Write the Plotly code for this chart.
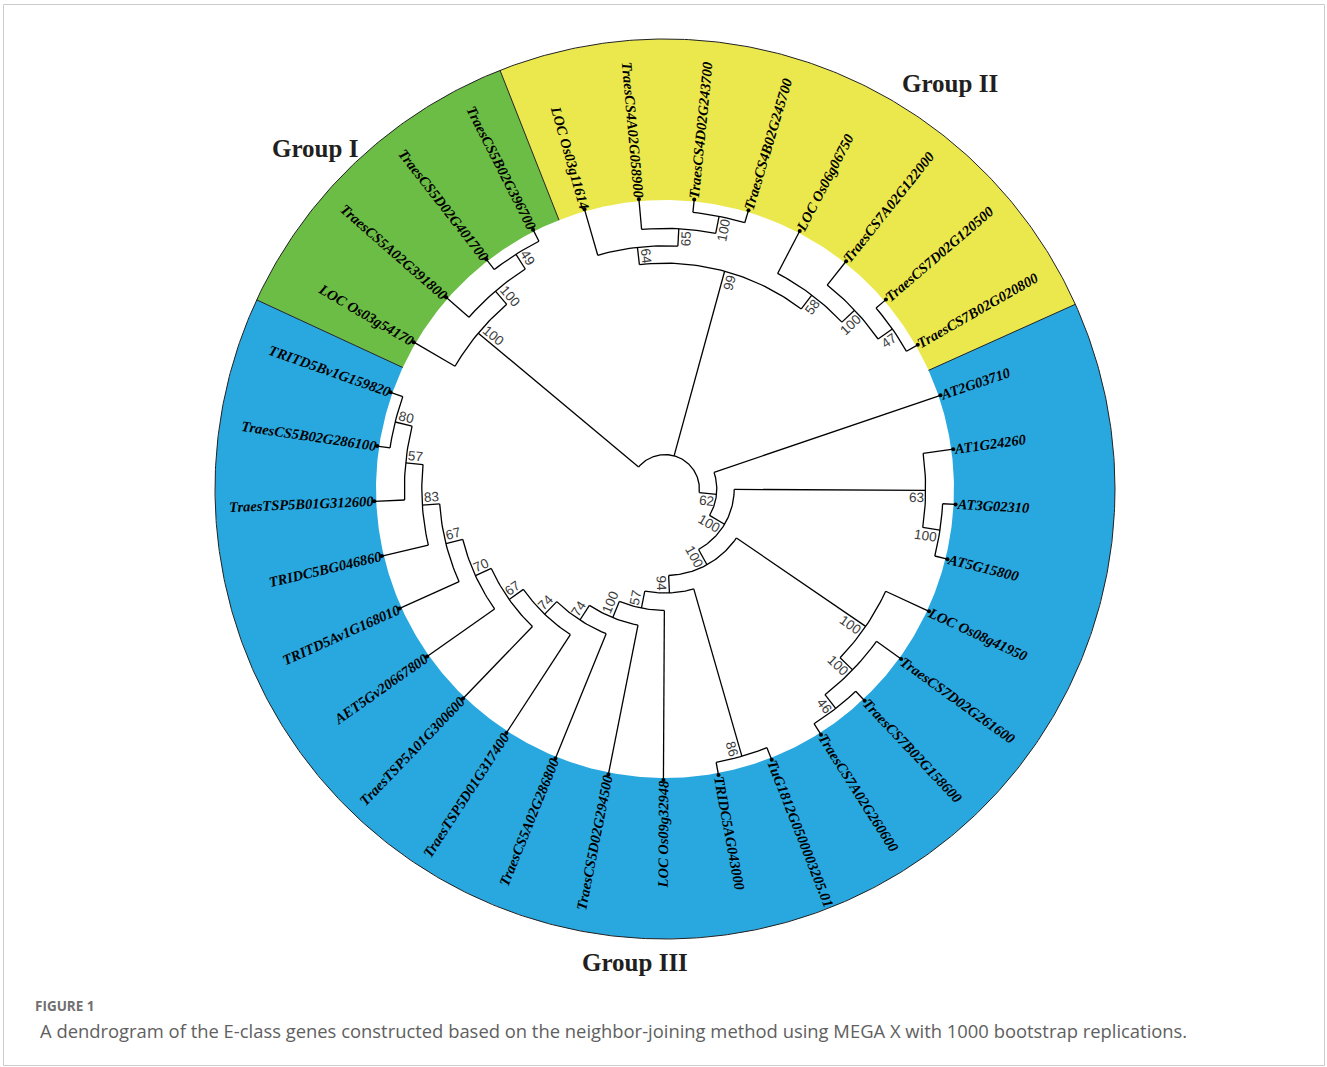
import math
import plotly.graph_objects as go

# ---------------- data ----------------
leaf_names = [
    "TRITD5Bv1G159820", "TraesCS5B02G286100", "TraesTSP5B01G312600", "TRIDC5BG046860",
    "TRITD5Av1G168010", "AET5Gv20667800", "TraesTSP5A01G300600", "TraesTSP5D01G317400",
    "TraesCS5A02G286800", "TraesCS5D02G294500", "LOC Os09g32948", "TRIDC5AG043000",
    "TuG1812G0500003205.01", "TraesCS7A02G260600", "TraesCS7B02G158600", "TraesCS7D02G261600",
    "LOC Os08g41950", "AT5G15800", "AT3G02310", "AT1G24260", "AT2G03710",
    "TraesCS7B02G020800", "TraesCS7D02G120500", "TraesCS7A02G122000", "LOC Os06g06750",
    "TraesCS4B02G245700", "TraesCS4D02G243700", "TraesCS4A02G058900", "LOC Os03g11614",
    "TraesCS5B02G396700", "TraesCS5D02G401700", "TraesCS5A02G391800", "LOC Os03g54170",
]
leaf_groups = ["Group III"] * 21 + ["Group II"] * 8 + ["Group I"] * 4

group_names = ["Group I", "Group II", "Group III"]
group_colors = ["#6cbd45", "#ebe84e", "#29a8e0"]

# internal nodes: children (in leaf order) and bootstrap support
node_children = {
    "n80": ["TRITD5Bv1G159820", "TraesCS5B02G286100"],
    "n57a": ["n80", "TraesTSP5B01G312600"],
    "n83": ["n57a", "TRIDC5BG046860"],
    "n67a": ["n83", "TRITD5Av1G168010"],
    "n70": ["n67a", "AET5Gv20667800"],
    "n67b": ["n70", "TraesTSP5A01G300600"],
    "n74a": ["n67b", "TraesTSP5D01G317400"],
    "n74b": ["n74a", "TraesCS5A02G286800"],
    "n100a": ["n74b", "TraesCS5D02G294500"],
    "n57b": ["n100a", "LOC Os09g32948"],
    "n86": ["TRIDC5AG043000", "TuG1812G0500003205.01"],
    "n94": ["n57b", "n86"],
    "n46": ["TraesCS7A02G260600", "TraesCS7B02G158600"],
    "n100b": ["n46", "TraesCS7D02G261600"],
    "n100c": ["n100b", "LOC Os08g41950"],
    "n100d": ["n94", "n100c"],
    "n100e": ["AT5G15800", "AT3G02310"],
    "n63": ["n100e", "AT1G24260"],
    "n100f": ["n100d", "n63"],
    "n62": ["n100f", "AT2G03710"],
    "n47": ["TraesCS7B02G020800", "TraesCS7D02G120500"],
    "n100g": ["n47", "TraesCS7A02G122000"],
    "n58": ["n100g", "LOC Os06g06750"],
    "n100h": ["TraesCS4B02G245700", "TraesCS4D02G243700"],
    "n65": ["n100h", "TraesCS4A02G058900"],
    "n64": ["n65", "LOC Os03g11614"],
    "n99": ["n58", "n64"],
    "n49": ["TraesCS5B02G396700", "TraesCS5D02G401700"],
    "n100i": ["n49", "TraesCS5A02G391800"],
    "n100j": ["n100i", "LOC Os03g54170"],
    "root": ["n62", "n99", "n100j"],
}
node_bootstrap = {
    "n80": 80, "n57a": 57, "n83": 83, "n67a": 67, "n70": 70, "n67b": 67,
    "n74a": 74, "n74b": 74, "n100a": 100, "n57b": 57, "n86": 86, "n94": 94,
    "n46": 46, "n100b": 100, "n100c": 100, "n100d": 100, "n100e": 100,
    "n63": 63, "n100f": 100, "n62": 62, "n47": 47, "n100g": 100, "n58": 58,
    "n100h": 100, "n65": 65, "n64": 64, "n99": 99, "n49": 49, "n100i": 100,
    "n100j": 100,
}

caption_head = "FIGURE 1"
caption_text = ("A dendrogram of the E-class genes constructed based on the neighbor-joining "
                "method using MEGA X with 1000 bootstrap replications.")

# ---------------- layout constants (pixel space) ----------------
W, H_PX = 1327, 1067
CX, CY = 665, 489
R_IN, R_OUT = 289, 450
R_LEAF = 291
R_TOP, STEP = 295.4, 17.4
START = 160.6
SPAN = 360.0 / len(leaf_names)

leaf_index = {n: i for i, n in enumerate(leaf_names)}
HGT, ANG = {}, {}


def layout(n):
    if n in leaf_index:
        HGT[n] = 0
        ANG[n] = START + leaf_index[n] * SPAN
        return
    for c in node_children[n]:
        layout(c)
    HGT[n] = 1 + max(HGT[c] for c in node_children[n])
    a = [ANG[c] for c in node_children[n]]
    ANG[n] = (min(a) + max(a)) / 2


layout("root")


def rad(n):
    return R_LEAF if n in leaf_index else R_TOP - STEP * HGT[n]


def pt(r, deg):
    t = math.radians(deg)
    return CX + r * math.cos(t), CY - r * math.sin(t)


def norm(deg):
    d = deg % 360
    if d > 180:
        d -= 360
    return d


fig = go.Figure()

# ---------------- coloured ring ----------------
for g, col in zip(group_names, group_colors):
    idx = [i for i, lg in enumerate(leaf_groups) if lg == g]
    lo = START + min(idx) * SPAN - SPAN / 2
    hi = START + max(idx) * SPAN + SPAN / 2
    n = max(20, int((hi - lo) * 2))
    xs, ys = [], []
    for k in range(n + 1):
        x, y = pt(R_OUT, lo + (hi - lo) * k / n)
        xs.append(x); ys.append(y)
    for k in range(n, -1, -1):
        x, y = pt(R_IN, lo + (hi - lo) * k / n)
        xs.append(x); ys.append(y)
    fig.add_trace(go.Scatter(x=xs, y=ys, mode="lines", fill="toself", fillcolor=col,
                             line=dict(width=0), hoverinfo="skip", showlegend=False))

# ring outlines
ox, oy = [], []
for k in range(721):
    x, y = pt(R_OUT, k / 2)
    ox.append(x); oy.append(y)
bx, by = [], []
for g in group_names:
    idx = [i for i, lg in enumerate(leaf_groups) if lg == g]
    lo = START + min(idx) * SPAN - SPAN / 2
    for r in (R_IN, R_OUT):
        x, y = pt(r, lo)
        bx.append(x); by.append(y)
    bx.append(None); by.append(None)
fig.add_trace(go.Scatter(x=ox + [None] + bx, y=oy + [None] + by, mode="lines",
                         line=dict(color="#222222", width=1), hoverinfo="skip", showlegend=False))

# ---------------- tree ----------------
tx, ty = [], []
for n, ch in node_children.items():
    rn = rad(n)
    a = [ANG[c] for c in ch]
    lo, hi = min(a), max(a)
    m = max(2, int(hi - lo) + 1)
    for k in range(m + 1):
        x, y = pt(rn, lo + (hi - lo) * k / m)
        tx.append(x); ty.append(y)
    tx.append(None); ty.append(None)
    for c in ch:
        for r in (rn, rad(c)):
            x, y = pt(r, ANG[c])
            tx.append(x); ty.append(y)
        tx.append(None); ty.append(None)
fig.add_trace(go.Scatter(x=tx, y=ty, mode="lines", line=dict(color="black", width=1.3),
                         hoverinfo="skip", showlegend=False))

# leaf tip dots
lx, ly = zip(*[pt(R_LEAF, ANG[n]) for n in leaf_names])
fig.add_trace(go.Scatter(x=list(lx), y=list(ly), mode="markers",
                         marker=dict(color="black", size=4), hoverinfo="skip", showlegend=False))

annotations = []
HIDE = "<span style='color:rgba(0,0,0,0)'>%s</span>"

# leaf labels (radial, centred on the tip with an invisible mirror copy)
for n in leaf_names:
    th = norm(ANG[n])
    x, y = pt(R_LEAF + 1, ANG[n])
    if -90 < th <= 90:
        txt = "<b><i>" + HIDE % n + n + "</i></b>"
        ang = -th
    else:
        txt = "<b><i>" + n + HIDE % n + "</i></b>"
        ang = 180 - th
    annotations.append(dict(x=x, y=y, xref="x", yref="y", text=txt, showarrow=False,
                            textangle=ang, xanchor="center", yanchor="middle",
                            font=dict(family="Liberation Serif, Times New Roman, serif",
                                      size=14.5, color="#000000")))

# bootstrap labels
for n, b in node_bootstrap.items():
    s = str(b)
    th = norm(ANG[n])
    t = math.radians(ANG[n])
    r = rad(n) - 2
    d = 7.5
    x = CX + r * math.cos(t) + d * math.sin(t)
    y = CY - r * math.sin(t) + d * math.cos(t)
    if -90 < th <= 90:
        txt = s + HIDE % s
        ang = -th
    else:
        txt = HIDE % s + s
        ang = 180 - th
    annotations.append(dict(x=x, y=y, xref="x", yref="y", text=txt, showarrow=False,
                            textangle=ang, xanchor="center", yanchor="middle",
                            font=dict(family="Liberation Sans, Arial, sans-serif",
                                      size=13.5, color="#3a3a3a")))

# group titles
for g, (gx, gy) in zip(group_names, [(315, 148), (950, 83), (635, 962)]):
    annotations.append(dict(x=gx, y=gy, xref="x", yref="y", text="<b>%s</b>" % g,
                            showarrow=False, xanchor="center", yanchor="middle",
                            font=dict(family="Liberation Serif, Times New Roman, serif",
                                      size=25, color="#231f20")))

# caption
annotations.append(dict(x=33, y=1006, xref="x", yref="y", text="<b>%s</b>" % caption_head,
                        showarrow=False, xanchor="left", yanchor="middle",
                        font=dict(family="Open Sans, sans-serif", size=13.5, color="#707070")))
annotations.append(dict(x=38, y=1030, xref="x", yref="y", text=caption_text, showarrow=False,
                        xanchor="left", yanchor="middle",
                        font=dict(family="Open Sans, sans-serif", size=18.4, color="#606060")))

fig.update_layout(
    width=W, height=H_PX, margin=dict(l=0, r=0, t=0, b=0),
    paper_bgcolor="white", plot_bgcolor="white",
    xaxis=dict(range=[0, W], visible=False, fixedrange=True),
    yaxis=dict(range=[H_PX, 0], visible=False, fixedrange=True),
    annotations=annotations,
    shapes=[dict(type="rect", xref="x", yref="y", x0=3.5, y0=4.5, x1=1324.5, y1=1065.5,
                 line=dict(color="#cccccc", width=1))],
    showlegend=False,
)
fig.write_html("out.html")
